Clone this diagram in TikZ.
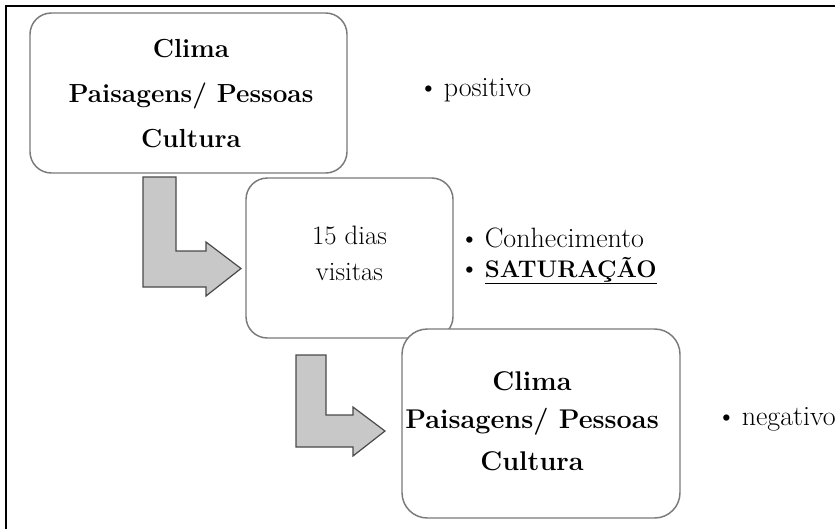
\documentclass[tikz,border=0pt]{standalone}
\usepackage{fontspec}
\definecolor{boxline}{HTML}{7A7A7A}
\definecolor{arrowfill}{HTML}{C8C8C8}
\definecolor{arrowline}{HTML}{4A4A4A}
\begin{document}
\begin{tikzpicture}[x=0.75pt,y=-0.75pt,
  rbox/.style={draw=boxline,line width=1.1pt,rounded corners=16pt,fill=white,inner sep=0pt},
  bendarrow/.style={draw=arrowline,fill=arrowfill,line width=0.9pt,line join=miter},
  boldline/.style={inner sep=0pt,anchor=base,font=\bfseries\fontsize{19.6}{24}\selectfont},
  boldlinebig/.style={inner sep=0pt,anchor=base,font=\bfseries\fontsize{20.3}{24}\selectfont},
  plainline/.style={inner sep=0pt,anchor=base,font=\fontsize{20}{24}\selectfont},
  bullettext/.style={inner sep=0pt,anchor=base west,font=\fontsize{21}{25}\selectfont}
]
\useasboundingbox (0,0) rectangle (835,529);
% frame
\draw[line width=1.6pt] (6,529) -- (6,6) -- (835,6);
% boxes
\node[rbox,minimum width=317*0.75pt,minimum height=160*0.75pt] (b1) at (188.5,93) {};
\node[boldline] (t1a) at (191,57) {Clima};
\node[boldline] (t1b) at (191,102) {Paisagens/ Pessoas};
\node[boldline] (t1c) at (191,147) {Cultura};
\node[rbox,minimum width=207*0.75pt,minimum height=160*0.75pt] (b2) at (349.5,258) {};
\node[plainline] (t2a) at (349.5,244) {15 dias};
\node[plainline] (t2b) at (349.5,280) {visitas};
\node[rbox,minimum width=278*0.75pt,minimum height=189*0.75pt,rounded corners=19pt] (b3) at (541,423.5) {};
\node[boldlinebig] (t3a) at (532,390) {Clima};
\node[boldlinebig] (t3b) at (532,428) {Paisagens/ Pessoas};
\node[boldlinebig] (t3c) at (532,470) {Cultura};
% arrows
\draw[bendarrow] (143,177) -- (176,177) -- (176,251) -- (206,251) -- (206,242) -- (241,268.5) -- (206,296) -- (206,287) -- (143,287) -- cycle;
\draw[bendarrow] (296,355) -- (326,355) -- (326,415) -- (353,415) -- (353,407) -- (385,431) -- (353,456) -- (353,447) -- (296,447) -- cycle;
% bullet texts
\node[bullettext] (p) at (418,96) {\textbullet\hspace{4pt}positivo};
\node[bullettext] (c) at (459,247) {\textbullet\hspace{4pt}Conhecimento};
\node[bullettext] (s) at (459,277) {\textbullet\hspace{4pt}\underline{\bfseries\fontsize{18}{22}\selectfont SATURAÇÃO}};
\node[bullettext] (n) at (716,425) {\textbullet\hspace{4pt}negativo};
\end{tikzpicture}
\end{document}
